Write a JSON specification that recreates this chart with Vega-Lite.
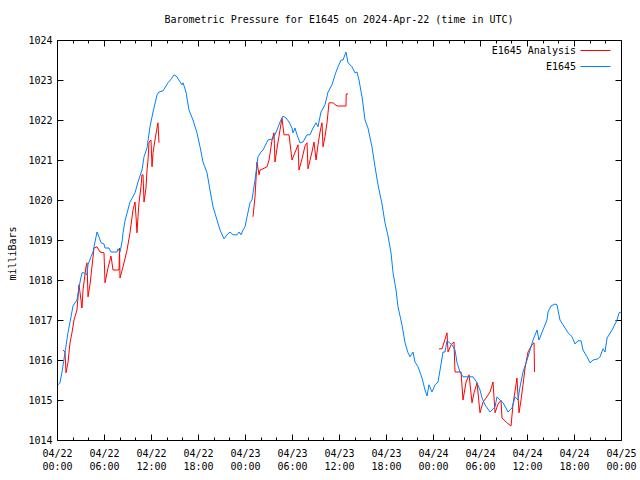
{
  "$schema": "https://vega.github.io/schema/vega-lite/v6.json",
  "width": 564,
  "height": 400,
  "autosize": {"type": "none"},
  "padding": {"left": 57, "top": 40, "right": 19, "bottom": 40},
  "background": "white",
  "title": {"text": "Barometric Pressure for E1645 on 2024-Apr-22 (time in UTC)", "font": "DejaVu Sans Mono", "fontSize": 10, "fontWeight": "normal", "anchor": "middle", "offset": 10, "color": "black"},
  "config": {
    "view": {"stroke": "black", "strokeWidth": 1},
    "axis": {"grid": false, "domain": false, "labelFont": "DejaVu Sans Mono", "labelFontSize": 10, "labelColor": "black", "tickColor": "black", "titleFont": "DejaVu Sans Mono", "titleFontSize": 10, "titleFontWeight": "normal", "titleColor": "black"}
  },
  "data": {"values": [
    {"s":"E1645 Analysis","g":1,"h":0.77,"p":1016.25},{"s":"E1645 Analysis","g":1,"h":1.02,"p":1016.20},{"s":"E1645 Analysis","g":1,"h":1.15,"p":1015.68},{"s":"E1645 Analysis","g":1,"h":1.40,"p":1015.93},
    {"s":"E1645 Analysis","g":1,"h":1.66,"p":1016.43},{"s":"E1645 Analysis","g":1,"h":1.91,"p":1016.68},{"s":"E1645 Analysis","g":1,"h":2.17,"p":1017.00},{"s":"E1645 Analysis","g":1,"h":2.55,"p":1017.25},
    {"s":"E1645 Analysis","g":1,"h":2.81,"p":1017.88},{"s":"E1645 Analysis","g":1,"h":3.06,"p":1017.50},{"s":"E1645 Analysis","g":1,"h":3.19,"p":1017.30},{"s":"E1645 Analysis","g":1,"h":3.32,"p":1017.75},
    {"s":"E1645 Analysis","g":1,"h":3.70,"p":1018.33},{"s":"E1645 Analysis","g":1,"h":3.83,"p":1018.43},{"s":"E1645 Analysis","g":1,"h":3.96,"p":1017.58},{"s":"E1645 Analysis","g":1,"h":4.21,"p":1017.88},
    {"s":"E1645 Analysis","g":1,"h":4.60,"p":1018.58},{"s":"E1645 Analysis","g":1,"h":4.72,"p":1018.80},{"s":"E1645 Analysis","g":1,"h":5.11,"p":1018.83},{"s":"E1645 Analysis","g":1,"h":5.49,"p":1018.70},
    {"s":"E1645 Analysis","g":1,"h":6.00,"p":1018.68},{"s":"E1645 Analysis","g":1,"h":6.13,"p":1017.93},{"s":"E1645 Analysis","g":1,"h":6.51,"p":1018.30},{"s":"E1645 Analysis","g":1,"h":6.89,"p":1018.60},
    {"s":"E1645 Analysis","g":1,"h":7.02,"p":1018.43},{"s":"E1645 Analysis","g":1,"h":7.15,"p":1018.25},{"s":"E1645 Analysis","g":1,"h":7.92,"p":1018.25},{"s":"E1645 Analysis","g":1,"h":7.98,"p":1018.80},
    {"s":"E1645 Analysis","g":1,"h":8.04,"p":1018.05},{"s":"E1645 Analysis","g":1,"h":8.43,"p":1018.33},{"s":"E1645 Analysis","g":1,"h":8.94,"p":1018.75},{"s":"E1645 Analysis","g":1,"h":9.32,"p":1019.18},
    {"s":"E1645 Analysis","g":1,"h":9.70,"p":1019.75},{"s":"E1645 Analysis","g":1,"h":9.96,"p":1019.95},{"s":"E1645 Analysis","g":1,"h":10.09,"p":1019.58},{"s":"E1645 Analysis","g":1,"h":10.21,"p":1019.18},
    {"s":"E1645 Analysis","g":1,"h":10.34,"p":1019.58},{"s":"E1645 Analysis","g":1,"h":10.47,"p":1019.93},{"s":"E1645 Analysis","g":1,"h":10.72,"p":1020.33},{"s":"E1645 Analysis","g":1,"h":10.85,"p":1020.63},
    {"s":"E1645 Analysis","g":1,"h":10.98,"p":1020.63},{"s":"E1645 Analysis","g":1,"h":11.11,"p":1019.95},{"s":"E1645 Analysis","g":1,"h":11.36,"p":1020.30},{"s":"E1645 Analysis","g":1,"h":11.49,"p":1020.75},
    {"s":"E1645 Analysis","g":1,"h":11.62,"p":1021.00},{"s":"E1645 Analysis","g":1,"h":11.75,"p":1021.45},{"s":"E1645 Analysis","g":1,"h":12.00,"p":1021.50},{"s":"E1645 Analysis","g":1,"h":12.13,"p":1020.83},
    {"s":"E1645 Analysis","g":1,"h":12.26,"p":1021.18},{"s":"E1645 Analysis","g":1,"h":12.51,"p":1021.50},{"s":"E1645 Analysis","g":1,"h":12.77,"p":1021.80},{"s":"E1645 Analysis","g":1,"h":12.89,"p":1021.93},
    {"s":"E1645 Analysis","g":1,"h":13.02,"p":1021.43},
    {"s":"E1645 Analysis","g":2,"h":25.02,"p":1019.58},{"s":"E1645 Analysis","g":2,"h":25.28,"p":1020.08},{"s":"E1645 Analysis","g":2,"h":25.53,"p":1020.95},{"s":"E1645 Analysis","g":2,"h":25.79,"p":1020.63},
    {"s":"E1645 Analysis","g":2,"h":25.92,"p":1020.75},{"s":"E1645 Analysis","g":2,"h":26.30,"p":1020.78},{"s":"E1645 Analysis","g":2,"h":26.81,"p":1020.83},{"s":"E1645 Analysis","g":2,"h":27.07,"p":1021.00},
    {"s":"E1645 Analysis","g":2,"h":27.45,"p":1021.50},{"s":"E1645 Analysis","g":2,"h":27.70,"p":1021.68},{"s":"E1645 Analysis","g":2,"h":27.83,"p":1020.95},{"s":"E1645 Analysis","g":2,"h":28.09,"p":1021.30},
    {"s":"E1645 Analysis","g":2,"h":28.47,"p":1021.75},{"s":"E1645 Analysis","g":2,"h":28.72,"p":1022.05},{"s":"E1645 Analysis","g":2,"h":28.98,"p":1021.63},{"s":"E1645 Analysis","g":2,"h":29.62,"p":1021.63},
    {"s":"E1645 Analysis","g":2,"h":30.00,"p":1021.00},{"s":"E1645 Analysis","g":2,"h":30.51,"p":1021.25},{"s":"E1645 Analysis","g":2,"h":30.77,"p":1021.38},{"s":"E1645 Analysis","g":2,"h":30.89,"p":1020.75},
    {"s":"E1645 Analysis","g":2,"h":31.28,"p":1021.03},{"s":"E1645 Analysis","g":2,"h":31.66,"p":1021.35},{"s":"E1645 Analysis","g":2,"h":31.92,"p":1021.43},{"s":"E1645 Analysis","g":2,"h":32.04,"p":1020.78},
    {"s":"E1645 Analysis","g":2,"h":32.55,"p":1021.20},{"s":"E1645 Analysis","g":2,"h":32.81,"p":1021.45},{"s":"E1645 Analysis","g":2,"h":33.07,"p":1021.00},{"s":"E1645 Analysis","g":2,"h":33.32,"p":1021.38},
    {"s":"E1645 Analysis","g":2,"h":33.58,"p":1021.70},{"s":"E1645 Analysis","g":2,"h":33.83,"p":1021.93},{"s":"E1645 Analysis","g":2,"h":33.96,"p":1021.33},{"s":"E1645 Analysis","g":2,"h":34.21,"p":1021.58},
    {"s":"E1645 Analysis","g":2,"h":34.47,"p":1021.93},{"s":"E1645 Analysis","g":2,"h":34.60,"p":1022.18},{"s":"E1645 Analysis","g":2,"h":34.72,"p":1022.43},{"s":"E1645 Analysis","g":2,"h":35.24,"p":1022.43},
    {"s":"E1645 Analysis","g":2,"h":35.75,"p":1022.35},{"s":"E1645 Analysis","g":2,"h":36.89,"p":1022.35},{"s":"E1645 Analysis","g":2,"h":36.92,"p":1022.65},{"s":"E1645 Analysis","g":2,"h":37.15,"p":1022.65},
    {"s":"E1645 Analysis","g":3,"h":48.77,"p":1016.28},{"s":"E1645 Analysis","g":3,"h":49.15,"p":1016.28},{"s":"E1645 Analysis","g":3,"h":49.79,"p":1016.68},{"s":"E1645 Analysis","g":3,"h":49.92,"p":1016.20},
    {"s":"E1645 Analysis","g":3,"h":50.30,"p":1016.38},{"s":"E1645 Analysis","g":3,"h":50.68,"p":1016.45},{"s":"E1645 Analysis","g":3,"h":50.81,"p":1015.70},{"s":"E1645 Analysis","g":3,"h":51.58,"p":1015.70},
    {"s":"E1645 Analysis","g":3,"h":51.83,"p":1015.00},{"s":"E1645 Analysis","g":3,"h":52.22,"p":1015.45},{"s":"E1645 Analysis","g":3,"h":52.60,"p":1015.63},{"s":"E1645 Analysis","g":3,"h":52.98,"p":1014.93},
    {"s":"E1645 Analysis","g":3,"h":53.24,"p":1015.18},{"s":"E1645 Analysis","g":3,"h":53.62,"p":1015.43},{"s":"E1645 Analysis","g":3,"h":54.00,"p":1014.68},{"s":"E1645 Analysis","g":3,"h":54.39,"p":1014.95},
    {"s":"E1645 Analysis","g":3,"h":54.77,"p":1015.05},{"s":"E1645 Analysis","g":3,"h":55.28,"p":1015.20},{"s":"E1645 Analysis","g":3,"h":55.66,"p":1015.45},{"s":"E1645 Analysis","g":3,"h":55.92,"p":1014.68},
    {"s":"E1645 Analysis","g":3,"h":56.30,"p":1014.90},{"s":"E1645 Analysis","g":3,"h":56.68,"p":1015.00},{"s":"E1645 Analysis","g":3,"h":56.81,"p":1014.55},{"s":"E1645 Analysis","g":3,"h":57.45,"p":1014.43},
    {"s":"E1645 Analysis","g":3,"h":57.96,"p":1014.35},{"s":"E1645 Analysis","g":3,"h":58.21,"p":1014.88},{"s":"E1645 Analysis","g":3,"h":58.72,"p":1015.55},{"s":"E1645 Analysis","g":3,"h":58.98,"p":1014.68},
    {"s":"E1645 Analysis","g":3,"h":59.24,"p":1015.00},{"s":"E1645 Analysis","g":3,"h":59.49,"p":1015.38},{"s":"E1645 Analysis","g":3,"h":59.75,"p":1015.80},{"s":"E1645 Analysis","g":3,"h":60.13,"p":1016.20},
    {"s":"E1645 Analysis","g":3,"h":60.64,"p":1016.38},{"s":"E1645 Analysis","g":3,"h":60.90,"p":1016.43},{"s":"E1645 Analysis","g":3,"h":60.96,"p":1015.70},
    {"s":"E1645","g":4,"h":0.13,"p":1015.38},{"s":"E1645","g":4,"h":0.38,"p":1015.43},{"s":"E1645","g":4,"h":0.64,"p":1015.70},{"s":"E1645","g":4,"h":1.02,"p":1016.18},
    {"s":"E1645","g":4,"h":1.40,"p":1016.68},{"s":"E1645","g":4,"h":1.79,"p":1017.08},{"s":"E1645","g":4,"h":2.04,"p":1017.35},{"s":"E1645","g":4,"h":2.55,"p":1017.50},
    {"s":"E1645","g":4,"h":2.94,"p":1017.95},{"s":"E1645","g":4,"h":3.19,"p":1018.18},{"s":"E1645","g":4,"h":3.45,"p":1018.18},{"s":"E1645","g":4,"h":3.83,"p":1018.13},
    {"s":"E1645","g":4,"h":3.96,"p":1018.38},{"s":"E1645","g":4,"h":4.34,"p":1018.58},{"s":"E1645","g":4,"h":4.60,"p":1018.70},{"s":"E1645","g":4,"h":4.85,"p":1018.95},
    {"s":"E1645","g":4,"h":5.11,"p":1019.20},{"s":"E1645","g":4,"h":5.36,"p":1019.08},{"s":"E1645","g":4,"h":5.62,"p":1018.93},{"s":"E1645","g":4,"h":6.00,"p":1018.90},
    {"s":"E1645","g":4,"h":6.13,"p":1018.80},{"s":"E1645","g":4,"h":6.64,"p":1018.80},{"s":"E1645","g":4,"h":6.89,"p":1018.70},{"s":"E1645","g":4,"h":7.66,"p":1018.70},
    {"s":"E1645","g":4,"h":7.79,"p":1018.78},{"s":"E1645","g":4,"h":8.04,"p":1018.70},{"s":"E1645","g":4,"h":8.30,"p":1018.95},{"s":"E1645","g":4,"h":8.43,"p":1019.18},
    {"s":"E1645","g":4,"h":8.68,"p":1019.48},{"s":"E1645","g":4,"h":9.32,"p":1019.95},{"s":"E1645","g":4,"h":9.96,"p":1020.18},{"s":"E1645","g":4,"h":10.34,"p":1020.45},
    {"s":"E1645","g":4,"h":10.85,"p":1020.75},{"s":"E1645","g":4,"h":11.11,"p":1021.08},{"s":"E1645","g":4,"h":11.49,"p":1021.30},{"s":"E1645","g":4,"h":11.87,"p":1021.83},
    {"s":"E1645","g":4,"h":12.26,"p":1022.20},{"s":"E1645","g":4,"h":12.77,"p":1022.63},{"s":"E1645","g":4,"h":13.02,"p":1022.70},{"s":"E1645","g":4,"h":13.53,"p":1022.73},
    {"s":"E1645","g":4,"h":14.17,"p":1022.93},{"s":"E1645","g":4,"h":14.68,"p":1023.05},{"s":"E1645","g":4,"h":14.94,"p":1023.13},{"s":"E1645","g":4,"h":15.32,"p":1023.08},
    {"s":"E1645","g":4,"h":15.45,"p":1023.03},{"s":"E1645","g":4,"h":15.96,"p":1022.88},{"s":"E1645","g":4,"h":16.09,"p":1022.93},{"s":"E1645","g":4,"h":16.47,"p":1022.70},
    {"s":"E1645","g":4,"h":16.85,"p":1022.25},{"s":"E1645","g":4,"h":17.36,"p":1022.00},{"s":"E1645","g":4,"h":17.87,"p":1021.68},{"s":"E1645","g":4,"h":18.26,"p":1021.33},
    {"s":"E1645","g":4,"h":18.64,"p":1020.95},{"s":"E1645","g":4,"h":19.15,"p":1020.68},{"s":"E1645","g":4,"h":19.53,"p":1020.25},{"s":"E1645","g":4,"h":19.92,"p":1019.83},
    {"s":"E1645","g":4,"h":20.43,"p":1019.50},{"s":"E1645","g":4,"h":20.81,"p":1019.25},{"s":"E1645","g":4,"h":21.32,"p":1019.03},{"s":"E1645","g":4,"h":21.70,"p":1019.13},
    {"s":"E1645","g":4,"h":22.09,"p":1019.20},{"s":"E1645","g":4,"h":22.47,"p":1019.13},{"s":"E1645","g":4,"h":22.98,"p":1019.13},{"s":"E1645","g":4,"h":23.24,"p":1019.20},
    {"s":"E1645","g":4,"h":23.49,"p":1019.13},{"s":"E1645","g":4,"h":23.75,"p":1019.25},{"s":"E1645","g":4,"h":24.00,"p":1019.33},{"s":"E1645","g":4,"h":24.26,"p":1019.58},
    {"s":"E1645","g":4,"h":24.64,"p":1019.93},{"s":"E1645","g":4,"h":24.89,"p":1020.00},{"s":"E1645","g":4,"h":25.28,"p":1020.50},{"s":"E1645","g":4,"h":25.66,"p":1021.08},
    {"s":"E1645","g":4,"h":26.04,"p":1021.20},{"s":"E1645","g":4,"h":26.30,"p":1021.25},{"s":"E1645","g":4,"h":26.94,"p":1021.50},{"s":"E1645","g":4,"h":27.58,"p":1021.53},
    {"s":"E1645","g":4,"h":28.09,"p":1021.75},{"s":"E1645","g":4,"h":28.47,"p":1021.95},{"s":"E1645","g":4,"h":28.85,"p":1022.10},{"s":"E1645","g":4,"h":29.24,"p":1022.05},
    {"s":"E1645","g":4,"h":29.62,"p":1021.95},{"s":"E1645","g":4,"h":30.00,"p":1021.80},{"s":"E1645","g":4,"h":30.13,"p":1021.68},{"s":"E1645","g":4,"h":30.38,"p":1021.80},
    {"s":"E1645","g":4,"h":30.64,"p":1021.63},{"s":"E1645","g":4,"h":31.02,"p":1021.43},{"s":"E1645","g":4,"h":31.41,"p":1021.45},{"s":"E1645","g":4,"h":31.92,"p":1021.63},
    {"s":"E1645","g":4,"h":32.30,"p":1021.63},{"s":"E1645","g":4,"h":32.68,"p":1021.80},{"s":"E1645","g":4,"h":33.07,"p":1021.93},{"s":"E1645","g":4,"h":33.32,"p":1021.83},
    {"s":"E1645","g":4,"h":33.70,"p":1022.20},{"s":"E1645","g":4,"h":34.21,"p":1022.38},{"s":"E1645","g":4,"h":34.60,"p":1022.70},{"s":"E1645","g":4,"h":35.11,"p":1022.88},
    {"s":"E1645","g":4,"h":35.49,"p":1023.13},{"s":"E1645","g":4,"h":35.87,"p":1023.33},{"s":"E1645","g":4,"h":36.26,"p":1023.50},{"s":"E1645","g":4,"h":36.51,"p":1023.50},
    {"s":"E1645","g":4,"h":36.89,"p":1023.70},{"s":"E1645","g":4,"h":37.15,"p":1023.43},{"s":"E1645","g":4,"h":37.66,"p":1023.33},{"s":"E1645","g":4,"h":38.04,"p":1023.18},
    {"s":"E1645","g":4,"h":38.30,"p":1023.20},{"s":"E1645","g":4,"h":38.55,"p":1023.00},{"s":"E1645","g":4,"h":38.94,"p":1022.58},{"s":"E1645","g":4,"h":39.32,"p":1022.00},
    {"s":"E1645","g":4,"h":39.70,"p":1021.80},{"s":"E1645","g":4,"h":40.21,"p":1021.33},{"s":"E1645","g":4,"h":40.60,"p":1020.83},{"s":"E1645","g":4,"h":40.98,"p":1020.38},
    {"s":"E1645","g":4,"h":41.49,"p":1019.90},{"s":"E1645","g":4,"h":41.87,"p":1019.43},{"s":"E1645","g":4,"h":42.26,"p":1019.10},{"s":"E1645","g":4,"h":42.64,"p":1018.68},
    {"s":"E1645","g":4,"h":42.90,"p":1018.18},{"s":"E1645","g":4,"h":43.28,"p":1017.75},{"s":"E1645","g":4,"h":43.53,"p":1017.33},{"s":"E1645","g":4,"h":44.04,"p":1016.88},
    {"s":"E1645","g":4,"h":44.43,"p":1016.43},{"s":"E1645","g":4,"h":44.81,"p":1016.18},{"s":"E1645","g":4,"h":45.06,"p":1016.08},{"s":"E1645","g":4,"h":45.45,"p":1016.20},
    {"s":"E1645","g":4,"h":45.70,"p":1015.95},{"s":"E1645","g":4,"h":46.09,"p":1015.83},{"s":"E1645","g":4,"h":46.60,"p":1015.55},{"s":"E1645","g":4,"h":46.98,"p":1015.25},
    {"s":"E1645","g":4,"h":47.24,"p":1015.10},{"s":"E1645","g":4,"h":47.49,"p":1015.38},{"s":"E1645","g":4,"h":47.87,"p":1015.20},{"s":"E1645","g":4,"h":48.26,"p":1015.38},
    {"s":"E1645","g":4,"h":48.64,"p":1015.45},{"s":"E1645","g":4,"h":48.90,"p":1015.75},{"s":"E1645","g":4,"h":49.28,"p":1016.20},{"s":"E1645","g":4,"h":49.53,"p":1016.20},
    {"s":"E1645","g":4,"h":49.79,"p":1016.48},{"s":"E1645","g":4,"h":50.43,"p":1016.38},{"s":"E1645","g":4,"h":50.81,"p":1016.25},{"s":"E1645","g":4,"h":51.07,"p":1015.93},
    {"s":"E1645","g":4,"h":51.45,"p":1015.70},{"s":"E1645","g":4,"h":51.83,"p":1015.58},{"s":"E1645","g":4,"h":53.11,"p":1015.58},{"s":"E1645","g":4,"h":53.62,"p":1015.43},
    {"s":"E1645","g":4,"h":54.00,"p":1015.25},{"s":"E1645","g":4,"h":54.26,"p":1015.05},{"s":"E1645","g":4,"h":54.64,"p":1014.88},{"s":"E1645","g":4,"h":55.28,"p":1014.70},
    {"s":"E1645","g":4,"h":55.92,"p":1014.83},{"s":"E1645","g":4,"h":56.17,"p":1015.08},{"s":"E1645","g":4,"h":56.55,"p":1015.00},{"s":"E1645","g":4,"h":56.94,"p":1014.93},
    {"s":"E1645","g":4,"h":57.32,"p":1014.80},{"s":"E1645","g":4,"h":57.58,"p":1014.70},{"s":"E1645","g":4,"h":58.09,"p":1014.80},{"s":"E1645","g":4,"h":58.47,"p":1015.08},
    {"s":"E1645","g":4,"h":58.85,"p":1015.00},{"s":"E1645","g":4,"h":59.11,"p":1015.33},{"s":"E1645","g":4,"h":59.49,"p":1015.70},{"s":"E1645","g":4,"h":60.00,"p":1016.00},
    {"s":"E1645","g":4,"h":60.39,"p":1016.25},{"s":"E1645","g":4,"h":60.77,"p":1016.50},{"s":"E1645","g":4,"h":61.28,"p":1016.75},{"s":"E1645","g":4,"h":61.53,"p":1016.50},
    {"s":"E1645","g":4,"h":62.04,"p":1016.75},{"s":"E1645","g":4,"h":62.55,"p":1017.00},{"s":"E1645","g":4,"h":62.68,"p":1017.20},{"s":"E1645","g":4,"h":63.06,"p":1017.35},
    {"s":"E1645","g":4,"h":63.58,"p":1017.40},{"s":"E1645","g":4,"h":63.83,"p":1017.38},{"s":"E1645","g":4,"h":64.21,"p":1017.00},{"s":"E1645","g":4,"h":64.60,"p":1016.88},
    {"s":"E1645","g":4,"h":65.24,"p":1016.68},{"s":"E1645","g":4,"h":65.75,"p":1016.58},{"s":"E1645","g":4,"h":66.13,"p":1016.40},{"s":"E1645","g":4,"h":66.51,"p":1016.48},
    {"s":"E1645","g":4,"h":66.90,"p":1016.48},{"s":"E1645","g":4,"h":67.15,"p":1016.25},{"s":"E1645","g":4,"h":67.66,"p":1016.08},{"s":"E1645","g":4,"h":68.05,"p":1015.93},
    {"s":"E1645","g":4,"h":68.43,"p":1016.00},{"s":"E1645","g":4,"h":69.07,"p":1016.03},{"s":"E1645","g":4,"h":69.32,"p":1016.08},{"s":"E1645","g":4,"h":69.71,"p":1016.28},
    {"s":"E1645","g":4,"h":69.96,"p":1016.20},{"s":"E1645","g":4,"h":70.22,"p":1016.55},{"s":"E1645","g":4,"h":70.86,"p":1016.75},{"s":"E1645","g":4,"h":71.49,"p":1017.00},
    {"s":"E1645","g":4,"h":71.75,"p":1017.18},{"s":"E1645","g":4,"h":72.00,"p":1017.20}
  ]},
  "resolve": {"axis": {"x": "independent", "y": "independent"}},
  "layer": [
    {
      "mark": {"type": "line", "strokeWidth": 1},
      "encoding": {
        "x": {"field": "h", "type": "quantitative",
          "scale": {"domain": [0, 72], "nice": false, "zero": false},
          "axis": {"orient": "bottom", "title": null, "values": [0,6,12,18,24,30,36,42,48,54,60,66,72],
            "labelExpr": "'04/' + (22 + floor(datum.value / 24))",
            "labelOverlap": false, "labelFlush": false, "labelBound": false, "tickSize": -6, "labelPadding": 14}},
        "y": {"field": "p", "type": "quantitative",
          "scale": {"domain": [1014, 1024], "nice": false, "zero": false},
          "axis": {"orient": "left", "title": "milliBars", "values": [1014,1015,1016,1017,1018,1019,1020,1021,1022,1023,1024], "format": "d", "tickSize": -6, "labelPadding": 11, "titlePadding": 10, "titleY": 213}},
        "color": {"field": "s", "type": "nominal",
          "scale": {"domain": ["E1645 Analysis", "E1645"], "range": ["#ff0000", "#0080ff"]},
          "legend": {"title": null, "orient": "none", "legendX": 528, "legendY": 0, "symbolType": "M-1.5,0H1.5", "symbolSize": 400, "symbolStrokeWidth": 1, "labelAlign": "right", "labelOffset": -30, "labelFont": "DejaVu Sans Mono", "labelFontSize": 10, "labelColor": "black", "rowPadding": 0, "padding": 0}},
        "detail": {"field": "g", "type": "nominal"}
      }
    },
    {
      "mark": {"type": "line", "strokeOpacity": 0},
      "encoding": {
        "x": {"field": "h", "type": "quantitative",
          "axis": {"orient": "bottom", "title": null, "values": [0,6,12,18,24,30,36,42,48,54,60,66,72], "ticks": false,
            "labelExpr": "(datum.value % 24 < 10 ? '0' : '') + (datum.value % 24) + ':00'",
            "labelOverlap": false, "labelFlush": false, "labelBound": false, "labelPadding": 21}},
        "y": {"field": "p", "type": "quantitative",
          "axis": {"orient": "right", "title": null, "labels": false, "values": [1014,1015,1016,1017,1018,1019,1020,1021,1022,1023,1024], "tickSize": -6}},
        "detail": {"field": "g", "type": "nominal"}
      }
    },
    {
      "mark": {"type": "line", "strokeOpacity": 0},
      "encoding": {
        "x": {"field": "h", "type": "quantitative",
          "axis": {"orient": "top", "title": null, "labels": false, "values": [0,6,12,18,24,30,36,42,48,54,60,66,72], "tickSize": -6}},
        "y": {"field": "p", "type": "quantitative", "axis": null},
        "detail": {"field": "g", "type": "nominal"}
      }
    },
    {
      "mark": {"type": "line", "strokeOpacity": 0},
      "encoding": {
        "x": {"field": "h", "type": "quantitative",
          "axis": {"orient": "bottom", "title": null, "labels": false, "values": [2,4,8,10,14,16,20,22,26,28,32,34,38,40,44,46,50,52,56,58,62,64,68,70], "tickSize": -3}},
        "y": {"field": "p", "type": "quantitative", "axis": null},
        "detail": {"field": "g", "type": "nominal"}
      }
    },
    {
      "mark": {"type": "line", "strokeOpacity": 0},
      "encoding": {
        "x": {"field": "h", "type": "quantitative",
          "axis": {"orient": "top", "title": null, "labels": false, "values": [2,4,8,10,14,16,20,22,26,28,32,34,38,40,44,46,50,52,56,58,62,64,68,70], "tickSize": -3}},
        "y": {"field": "p", "type": "quantitative", "axis": null},
        "detail": {"field": "g", "type": "nominal"}
      }
    }
  ]
}
